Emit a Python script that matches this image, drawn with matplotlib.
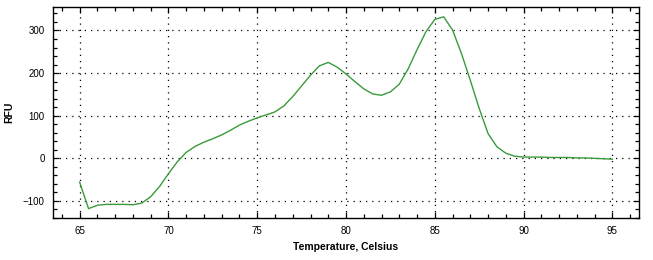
import numpy as np
import matplotlib
matplotlib.use("Agg")
import matplotlib.pyplot as plt
from matplotlib.ticker import MultipleLocator

# melt curve at 0.5 C steps
temp = np.arange(65, 95.5, 0.5)
rfu = [-56, -118, -110, -108, -108, -108, -109, -105, -90, -66,
       -36, -8, 14, 28, 38, 46, 55, 66, 78, 87,
       95, 102, 109, 123, 145, 170, 195, 217, 225, 214,
       198, 180, 163, 151, 148, 156, 174, 210, 255, 297,
       326, 332, 301, 246, 183, 117, 58, 27, 12, 5,
       3, 3, 3, 2, 2, 2, 1, 1, 0, -1, -2]

plt.rcParams['font.family'] = ['Liberation Sans', 'DejaVu Sans']

fig = plt.figure(figsize=(6.53, 2.6), dpi=100)
ax = fig.add_axes([0.0812, 0.1615, 0.8974, 0.8115])

ax.plot(temp, rfu, color='#3a9a3a', lw=1.0)

ax.set_xlim(63.5, 96.5)
ax.set_ylim(-140, 355)
ax.xaxis.set_major_locator(MultipleLocator(5))
ax.xaxis.set_minor_locator(MultipleLocator(1))
ax.yaxis.set_major_locator(MultipleLocator(100))
ax.yaxis.set_minor_locator(MultipleLocator(20))

ax.grid(True, which='major', color='black', linestyle=(0, (1, 4)), lw=0.9)
ax.tick_params(which='both', direction='in', top=True, right=True,
               labelsize=7, colors='black', width=0.9)
ax.tick_params(which='major', length=4, pad=6)
ax.tick_params(which='minor', length=3)
for s in ax.spines.values():
    s.set_linewidth(1.0)

ax.set_xlabel('Temperature, Celsius', fontsize=7.5, fontweight='bold', labelpad=4)
ax.set_ylabel('RFU', fontsize=7.5, fontweight='bold', labelpad=6)

fig.savefig('out.png', dpi=100)
